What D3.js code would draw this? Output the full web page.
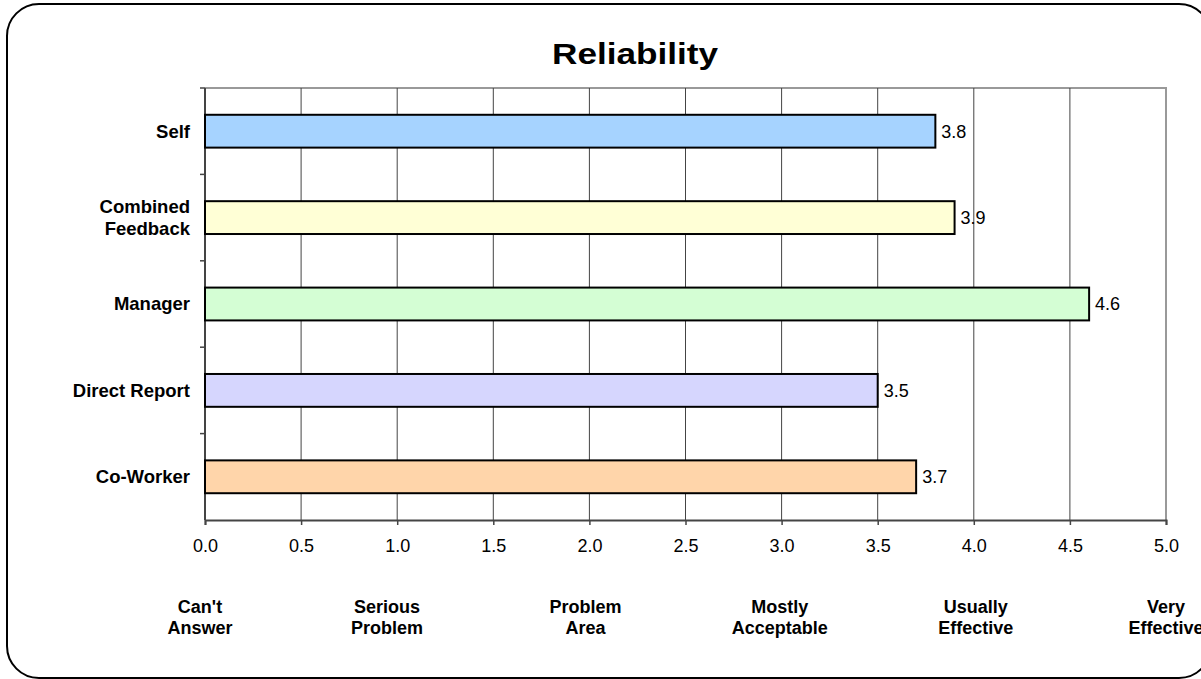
<!DOCTYPE html>
<html><head><meta charset="utf-8">
<script src="https://cdn.jsdelivr.net/npm/d3@7"></script>
<style>body{margin:0;background:#fff;overflow:hidden}svg{display:block;font-family:"Liberation Sans",Arial,sans-serif}</style>
</head><body>
<svg id="c" width="1201" height="679"></svg>
<script>
const categories = ["Self", "Combined Feedback", "Manager", "Direct Report", "Co-Worker"];
const values = [3.8, 3.9, 4.6, 3.5, 3.7];
const barColors = ["#a6d3ff", "#ffffd6", "#d4fed4", "#d6d6fe", "#ffd5aa"];
const xTicks = [0, 0.5, 1, 1.5, 2, 2.5, 3, 3.5, 4, 4.5, 5];
const ratingLabels = [["Can't","Answer"],["Serious","Problem"],["Problem","Area"],["Mostly","Acceptable"],["Usually","Effective"],["Very","Effective"]];
const ratingPos = [-0.026, 0.947, 1.98, 2.99, 4.01, 5.0];
const title = "Reliability";

const svg = d3.select("#c");
const m = {left:205, right:1166, top:88, bottom:520};
const x = d3.scaleLinear().domain([0,5]).range([m.left, m.right]);
const y = d3.scaleBand().domain(categories).range([m.top, m.bottom]).paddingInner(0.62).paddingOuter(0.31);

// outer frame
svg.append("rect").attr("x",7).attr("y",4).attr("width",1204).attr("height",674)
  .attr("rx",32).attr("ry",32).attr("fill","#fff").attr("stroke","#000").attr("stroke-width",2);

// title
svg.append("text").attr("x",552).attr("y",64)
  .attr("font-size",29).attr("font-weight","bold")
  .attr("textLength",166).attr("lengthAdjust","spacingAndGlyphs").text(title);

// plot border (top/right)
svg.append("path").attr("d",`M${m.left},${m.top}H${m.right}V${m.bottom}`)
  .attr("fill","none").attr("stroke","#999").attr("stroke-width",2);

// gridlines
svg.append("g").selectAll("line").data(xTicks.filter(d=>d>0 && d<5)).join("line")
  .attr("x1",d=>x(d)).attr("x2",d=>x(d)).attr("y1",m.top).attr("y2",m.bottom)
  .attr("stroke","#444").attr("stroke-width",1);

// x axis
const xa = svg.append("g").attr("transform",`translate(0,${m.bottom})`)
  .call(d3.axisBottom(x).tickValues(xTicks).tickFormat(d3.format(".1f")).tickSize(5).tickPadding(14));
xa.select(".domain").attr("stroke","#444").attr("stroke-width",2);
xa.selectAll(".tick line").attr("stroke","#444").attr("stroke-width",1.5);
xa.selectAll("text").attr("font-size",18).attr("fill","#000").attr("font-family","Liberation Sans, Arial, sans-serif");

// y axis
const yBounds = d3.range(categories.length+1).map(i=>m.top + i*(m.bottom-m.top)/categories.length);
svg.append("line").attr("x1",m.left).attr("x2",m.left).attr("y1",m.top).attr("y2",m.bottom)
  .attr("stroke","#444").attr("stroke-width",2);
svg.append("g").selectAll("line").data(yBounds.slice(0,-1)).join("line")
  .attr("x1",m.left-5).attr("x2",m.left).attr("y1",d=>d).attr("y2",d=>d)
  .attr("stroke","#444").attr("stroke-width",1.5);

// bars
svg.append("g").selectAll("rect").data(categories).join("rect")
  .attr("x",x(0)).attr("y",d=>y(d)).attr("width",(d,i)=>x(values[i])-x(0)).attr("height",y.bandwidth())
  .attr("fill",(d,i)=>barColors[i]).attr("stroke","#000").attr("stroke-width",2);

// value labels
svg.append("g").selectAll("text").data(categories).join("text")
  .attr("x",(d,i)=>x(values[i])+6).attr("y",d=>y(d)+y.bandwidth()/2).attr("dy","0.35em")
  .attr("font-size",18).text((d,i)=>values[i].toFixed(1));

// category labels
const cl = svg.append("g").selectAll("text").data(categories).join("text")
  .attr("x",m.left-15).attr("y",d=>y(d)+y.bandwidth()/2).attr("text-anchor","end")
  .attr("font-size",18.5).attr("font-weight","bold");
cl.each(function(d){
  const words = d === "Combined Feedback" ? ["Combined","Feedback"] : [d];
  const t = d3.select(this);
  const n = words.length;
  words.forEach((w,i)=>t.append("tspan").attr("x",m.left-15)
    .attr("dy", i===0 ? ((0.35 - (n-1)*0.6)+"em") : "1.2em").text(w));
});

// rating labels
const rl = svg.append("g").selectAll("text").data(ratingLabels).join("text")
  .attr("x",(d,i)=>x(ratingPos[i])).attr("y",613).attr("text-anchor","middle")
  .attr("font-size",18).attr("font-weight","bold");
rl.each(function(d,i){
  const t = d3.select(this);
  d.forEach((w,j)=>t.append("tspan").attr("x",x(ratingPos[i])).attr("dy", j===0?0:"1.17em").text(w));
});
</script>
</body></html>
